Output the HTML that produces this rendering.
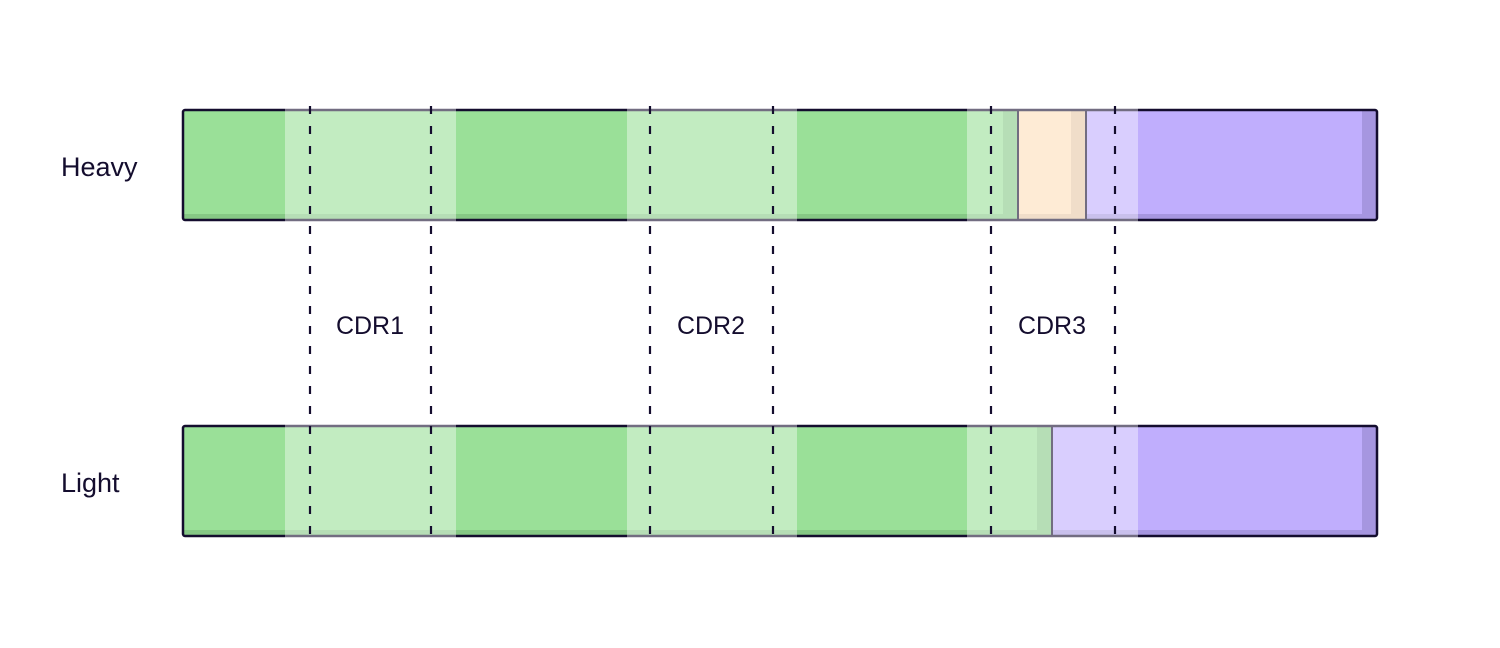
<!DOCTYPE html>
<html><head><meta charset="utf-8"><style>
html,body{margin:0;padding:0;background:#fff;width:1500px;height:648px;overflow:hidden}
svg{display:block}
text{font-family:"Liberation Sans",sans-serif;fill:#140d2e}
</style></head><body>
<svg width="1500" height="648" viewBox="0 0 1500 648">
<!-- Heavy bar -->
<g>
<rect x="183" y="110" width="835" height="110" fill="#9ae098"/>
<rect x="183" y="214" width="835" height="6" fill="#86c885"/>
<rect x="1003" y="110" width="15" height="110" fill="#86c885"/>
<rect x="1018" y="110" width="68" height="110" fill="#fddeb9"/>
<rect x="1071" y="110" width="15" height="110" fill="#e6c7a6"/>
<rect x="1018" y="214" width="68" height="6" fill="#e6c7a6"/>
<rect x="1086" y="110" width="291" height="110" fill="#c0aefd"/>
<rect x="1362" y="110" width="15" height="110" fill="#a696e0"/>
<rect x="1086" y="214" width="291" height="6" fill="#a696e0"/>
<line x1="1018" y1="110" x2="1018" y2="220" stroke="#140d2e" stroke-width="2"/>
<line x1="1086" y1="110" x2="1086" y2="220" stroke="#140d2e" stroke-width="2"/>
<rect x="183" y="110" width="1194" height="110" fill="none" stroke="#140d2e" stroke-width="2.5" rx="2"/>
</g>
<!-- Light bar -->
<g>
<rect x="183" y="426" width="869" height="110" fill="#9ae098"/>
<rect x="183" y="530" width="869" height="6" fill="#86c885"/>
<rect x="1037" y="426" width="15" height="110" fill="#86c885"/>
<rect x="1052" y="426" width="325" height="110" fill="#c0aefd"/>
<rect x="1362" y="426" width="15" height="110" fill="#a696e0"/>
<rect x="1052" y="530" width="325" height="6" fill="#a696e0"/>
<line x1="1052" y1="426" x2="1052" y2="536" stroke="#140d2e" stroke-width="2"/>
<rect x="183" y="426" width="1194" height="110" fill="none" stroke="#140d2e" stroke-width="2.5" rx="2"/>
</g>
<!-- CDR overlays -->
<g fill="#fff" fill-opacity="0.4">
<rect x="285" y="108" width="171" height="114"/>
<rect x="627" y="108" width="170" height="114"/>
<rect x="967" y="108" width="171" height="114"/>
<rect x="285" y="424" width="171" height="114"/>
<rect x="627" y="424" width="170" height="114"/>
<rect x="967" y="424" width="171" height="114"/>
</g>
<!-- dashed lines -->
<g stroke="#140d2e" stroke-width="2.2" stroke-dasharray="8 12">
<line x1="310" y1="106" x2="310" y2="540"/>
<line x1="431" y1="106" x2="431" y2="540"/>
<line x1="650" y1="106" x2="650" y2="540"/>
<line x1="773" y1="106" x2="773" y2="540"/>
<line x1="991" y1="106" x2="991" y2="540"/>
<line x1="1115" y1="106" x2="1115" y2="540"/>
</g>
<text x="61" y="176" font-size="27">Heavy</text>
<text x="61" y="492" font-size="27">Light</text>
<text x="370" y="334" font-size="25" text-anchor="middle">CDR1</text>
<text x="711" y="334" font-size="25" text-anchor="middle">CDR2</text>
<text x="1052" y="334" font-size="25" text-anchor="middle">CDR3</text>
</svg>
</body></html>
